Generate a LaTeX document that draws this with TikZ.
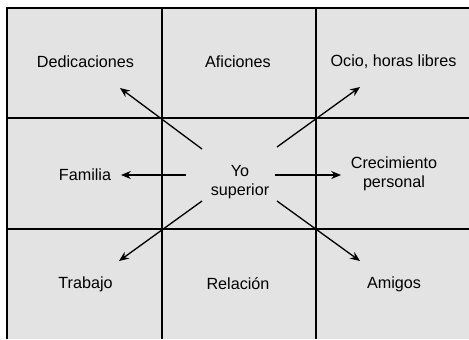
\documentclass[tikz,border=0pt]{standalone}
\usepackage{fontspec}
\setmainfont{Liberation Sans}
\usepackage{xcolor}
\usepackage{tikz}
\usetikzlibrary{calc, arrows.meta, positioning}

\definecolor{grisfondo}{HTML}{E3E3E3}

\tikzset{
    etiqueta/.style={font=\fontsize{9.2}{10.8}\selectfont, align=center, inner sep=0pt},
    rejilla/.style={line width=1.1pt},
    flecha/.style={->, line width=0.75pt}
}

\begin{document}
\begin{tikzpicture}[>={Stealth[length=5.6pt, width=4.6pt]}, x=0.02cm, y=-0.02cm]
    \useasboundingbox (0,0) rectangle (469,339);

    % Fondo gris y rejilla 3x3 (cortada a la derecha y abajo)
    \fill[grisfondo] (7,8) rectangle (469,339);
    \draw[rejilla] (7,339) -- (7,8) -- (469,8);
    \draw[rejilla] (162,8) -- (162,339);
    \draw[rejilla] (316,8) -- (316,339);
    \draw[rejilla] (7,118) -- (469,118);
    \draw[rejilla] (7,229) -- (469,229);

    % Textos de las casillas
    \node[etiqueta] (dedicaciones) at (85.5,62) {Dedicaciones};
    \node[etiqueta] (aficiones) at (238,62) {Aficiones};
    \node[etiqueta] (ocio) at (393.5,62) {Ocio, horas libres};
    \node[etiqueta] (familia) at (85,175) {Familia};
    \node[etiqueta] (yo) at (240,182) {Yo\\superior};
    \node[etiqueta] (crecimiento) at (394,174) {Crecimiento\\personal};
    \node[etiqueta] (trabajo) at (85.5,284) {Trabajo};
    \node[etiqueta] (relacion) at (238,284) {Relación};
    \node[etiqueta] (amigos) at (394,284) {Amigos};

    % Extremos de las flechas
    \coordinate (s-no) at (202,149);  \coordinate (t-no) at (120,88);
    \coordinate (s-ne) at (277,147);  \coordinate (t-ne) at (360,87);
    \coordinate (s-o)  at (186,175);  \coordinate (t-o)  at (121,175);
    \coordinate (s-e)  at (275,175);  \coordinate (t-e)  at (341,175);
    \coordinate (s-so) at (202,201);  \coordinate (t-so) at (119,261);
    \coordinate (s-se) at (277,201);  \coordinate (t-se) at (360,261);

    \foreach \d in {no, ne, o, e, so, se}
        \draw[flecha] (s-\d) -- (t-\d);
\end{tikzpicture}
\end{document}
